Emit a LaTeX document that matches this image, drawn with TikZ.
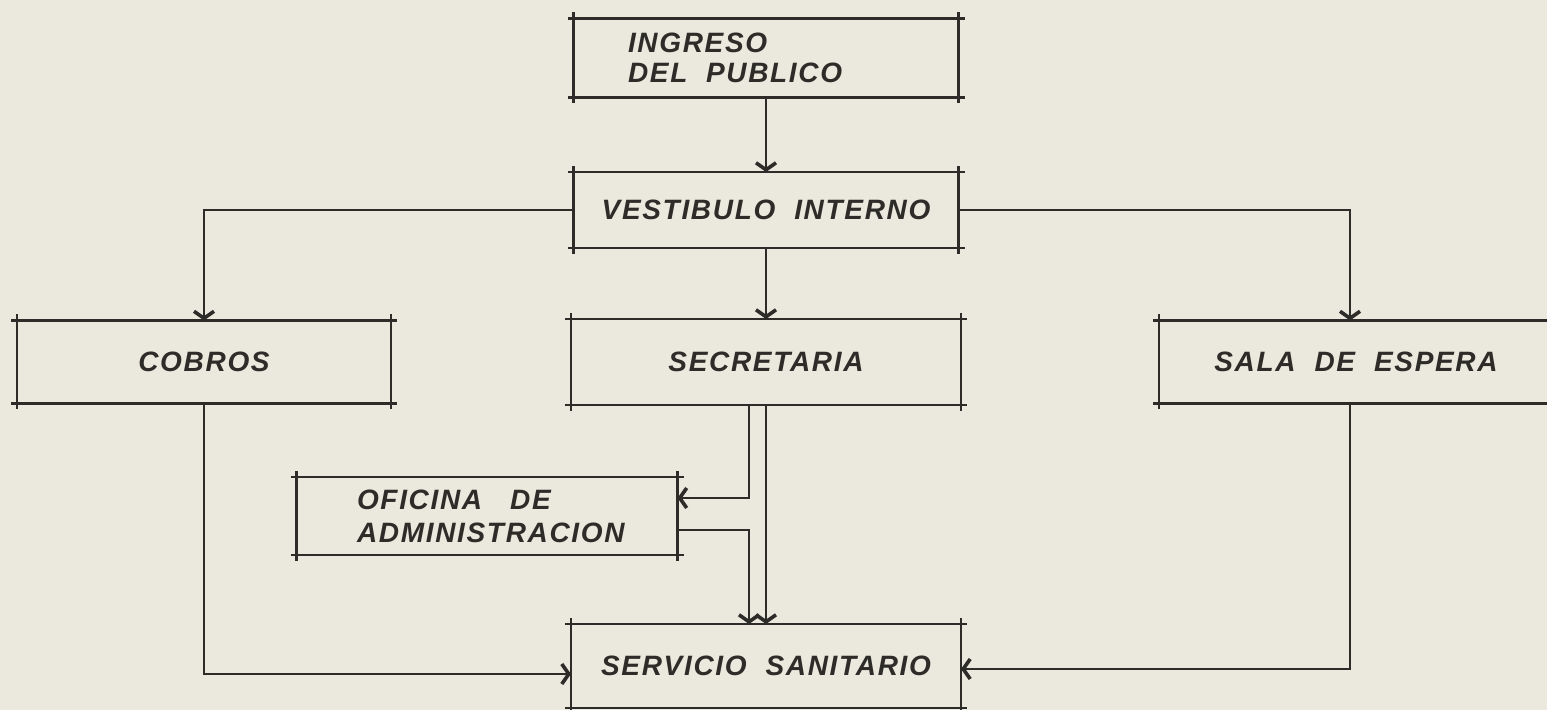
\documentclass[tikz,border=0pt]{standalone}
\usepackage{fontspec}
\newfontfamily\rotulo[LetterSpace=6]{Liberation Sans}
\usetikzlibrary{arrows.meta}

\definecolor{papel}{RGB}{235,233,222}
\definecolor{tinta}{RGB}{45,44,40}

\begin{document}
\begin{tikzpicture}[x=0.5pt,y=0.5pt,->,>={Straight Barb[length=3.5pt,width=10pt,line width=1.8pt]},line width=1pt,color=tinta,node distance=76pt,
  ambiente/.style={inner sep=0pt,font=\rotulo\fontsize{14}{15}\selectfont\bfseries\itshape},
  borde/.style={-,line width=1.4pt,shorten <=-3pt,shorten >=-3pt}]

\fill[papel] (0,0) rectangle (1547,-710);
\useasboundingbox (0,0) rectangle (1547,-710);

\node[ambiente, minimum width=191.5pt, minimum height=38.5pt, text width=138pt, align=left] (ingreso) at (766,-58) {INGRESO\\DEL\ \ PUBLICO};
\node[ambiente, minimum width=191.5pt, minimum height=37pt] (vestibulo) [below of=ingreso] {VESTIBULO\ \ INTERNO};
\node[ambiente, minimum width=194pt, minimum height=42pt] (secretaria) [below of=vestibulo] {SECRETARIA};
\node[ambiente, minimum width=186pt, minimum height=40.5pt] (cobros) [left of=secretaria, node distance=281pt] {COBROS};
\node[ambiente, minimum width=196pt, minimum height=40.5pt] (sala) [right of=secretaria, node distance=295pt] {SALA\ \ DE\ \ ESPERA};
\node[ambiente, minimum width=189.5pt, minimum height=38pt, text width=130pt, align=left, font=\rotulo\fontsize{14}{16.5}\selectfont\bfseries\itshape] (oficina) at (487,-516) {OFICINA\ \ \ DE\\ADMINISTRACION};
\node[ambiente, minimum width=194pt, minimum height=41pt] (servicio) [below of=secretaria, node distance=152pt] {SERVICIO\ \ SANITARIO};

\foreach \n in {ingreso,vestibulo,secretaria,cobros,sala,oficina,servicio}
  \path[borde] (\n.north west) edge (\n.north east)
               (\n.south west) edge (\n.south east)
               (\n.north west) edge (\n.south west)
               (\n.north east) edge (\n.south east);

\draw (ingreso) -- (vestibulo);
\draw (vestibulo.west) -| (cobros.north);
\draw (vestibulo.east) -| ([xshift=-3pt]sala.north);
\draw (vestibulo) -- (secretaria);

\draw ([xshift=-8.5pt]secretaria.south) |- ([yshift=9pt]oficina.east);
\draw ([yshift=-7pt]oficina.east) -| ([xshift=-8.5pt]servicio.north);
\draw (secretaria) -- (servicio);

\draw (cobros.south) |- ([yshift=-4pt]servicio.west);
\draw ([xshift=-3pt]sala.south) |- ([yshift=-1.5pt]servicio.east);

\end{tikzpicture}
\end{document}
